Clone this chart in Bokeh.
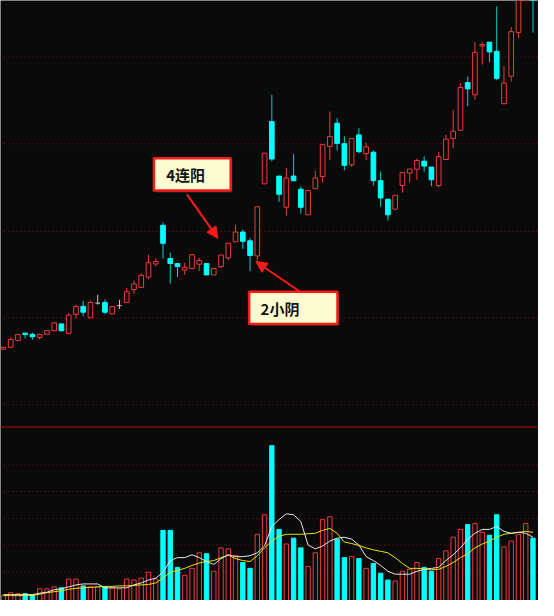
from bokeh.plotting import figure
from bokeh.models import Range1d, Span, Arrow, NormalHead, ColumnDataSource
from bokeh.core.properties import value
from bokeh.embed import file_html
from bokeh.resources import INLINE

# ---------------- data ----------------
open_ = [9.68, 9.76, 10.04, 10.34, 10.29, 10.16, 10.29, 10.44, 10.72, 10.33,
         11.11, 11.44, 10.97, 11.57, 11.60, 11.13, 11.47, 11.60, 12.13, 12.22,
         12.64, 13.18, 14.77, 13.40, 13.20, 12.93, 13.00, 13.17, 13.20, 12.73,
         13.07, 13.43, 14.09, 14.49, 14.13, 13.51, 16.47, 19.03, 16.79, 15.51,
         16.79, 16.25, 15.20, 16.27, 16.77, 18.01, 18.96, 18.12, 17.25, 18.48,
         17.71, 17.77, 16.60, 15.84, 15.43, 16.40, 16.91, 17.07, 17.40, 17.16,
         16.40, 17.47, 18.33, 18.67, 20.63, 20.13, 22.13, 22.29, 21.91, 19.76,
         20.89, 22.69, 24.60, 25.50]
high = [9.77, 10.16, 10.28, 10.36, 10.36, 10.29, 10.46, 10.76, 10.72, 11.16,
        11.51, 11.67, 11.68, 11.91, 11.73, 11.43, 11.71, 12.20, 12.49, 12.80,
        13.56, 13.40, 14.89, 13.64, 13.22, 13.23, 13.56, 13.43, 13.20, 12.99,
        13.55, 14.03, 14.80, 14.60, 14.24, 15.53, 17.73, 20.13, 16.79, 17.13,
        17.69, 16.36, 16.20, 17.00, 18.08, 19.44, 19.17, 18.43, 18.33, 18.76,
        18.16, 17.84, 16.97, 15.84, 16.00, 16.93, 17.08, 17.51, 17.60, 17.16,
        17.77, 18.49, 19.51, 20.60, 20.88, 22.29, 22.29, 22.29, 23.76, 21.31,
        22.91, 25.00, 25.90, 25.70]
low = [9.67, 9.76, 10.04, 10.12, 10.07, 10.08, 10.29, 10.44, 10.40, 10.33,
       10.93, 11.03, 10.97, 11.51, 11.11, 11.13, 11.33, 11.60, 11.96, 12.22,
       12.57, 13.08, 13.40, 12.37, 12.64, 12.73, 12.97, 12.89, 12.73, 12.73,
       13.00, 13.33, 14.09, 13.80, 12.89, 13.31, 16.47, 17.40, 15.73, 15.17,
       16.57, 15.24, 15.20, 16.27, 16.53, 17.44, 17.84, 17.03, 17.17, 17.73,
       17.44, 16.40, 15.53, 14.96, 15.43, 16.11, 16.53, 16.64, 16.97, 16.37,
       16.33, 17.47, 17.93, 18.67, 19.67, 19.93, 21.37, 21.47, 20.73, 19.76,
       20.67, 22.47, 23.96, 22.68]
close = [9.76, 10.08, 10.28, 10.28, 10.19, 10.29, 10.44, 10.76, 10.44, 11.08,
         11.43, 11.20, 11.60, 11.57, 11.20, 11.43, 11.47, 12.04, 12.36, 12.71,
         13.23, 13.28, 14.03, 13.20, 13.07, 13.04, 13.56, 13.32, 12.73, 12.99,
         13.55, 14.03, 14.49, 14.11, 13.53, 15.53, 17.73, 17.49, 16.04, 16.71,
         16.60, 15.51, 16.20, 16.71, 18.08, 18.41, 18.13, 17.23, 18.33, 17.79,
         17.99, 16.60, 15.89, 15.20, 16.00, 16.93, 17.08, 17.43, 17.20, 16.64,
         17.59, 18.31, 18.63, 20.43, 20.37, 21.87, 22.19, 21.89, 20.80, 20.61,
         22.72, 24.80, 25.60, 24.60]
volume = [5, 8, 7, 7, 6, 12, 12, 14, 13, 22,
          22, 15, 14, 14, 14, 13, 12, 22, 21, 23,
          29, 22, 72, 72, 34, 26, 33, 49, 48, 30,
          54, 53, 46, 39, 33, 68, 88, 159, 73, 58,
          64, 54, 35, 49, 83, 86, 63, 44, 45, 43,
          33, 38, 28, 21, 20, 30, 32, 39, 34, 30,
          43, 51, 65, 73, 78, 79, 70, 67, 88, 55,
          61, 68, 79, 64]
vol_ma5 = [6, 6, 6, 6, 6, 7.5, 8.5, 11, 12, 14,
           16, 17, 17, 17, 13, 13, 13, 13, 16, 18,
           21, 23, 29, 41, 44, 44, 47, 44, 40, 37,
           43, 47, 45, 45, 46, 49, 56, 76, 83, 89,
           88, 81, 57, 53, 56, 61, 64, 65, 63, 57,
           45, 41, 36, 30, 27, 27, 27, 30, 32, 33,
           34, 41, 47, 54, 63, 69, 73, 73, 76, 71,
           69, 70, 69, 65]
vol_ma10 = [5, 5, 5, 5, 5, 6.5, 8, 9, 10, 11.5,
            12.5, 13, 13.5, 14, 14.5, 14.5, 15, 15, 15.5, 16,
            16.5, 18, 23, 29, 31, 33, 36, 38.5, 40, 41,
            44, 46.5, 43, 41, 40, 46, 54, 61, 66, 68,
            68, 68, 68.5, 69, 72, 74, 69, 60, 58.5, 56.5,
            54, 52, 50.5, 49, 44, 38, 33, 33, 32.5, 31.5,
            32, 35, 39, 44, 48, 54, 58, 61, 65, 68,
            69, 70, 71, 70]
price_grid = [7.40, 10.96, 14.52, 18.12, 21.68]
volume_grid = [29, 57, 84, 112, 139]
volume_top = 178
note_up = "4连阳"
note_down = "2小阴"
note_up_bar = 30      # candle the first arrow points to
note_down_bar = 35    # candle the second arrow points to

# ---------------- styling ----------------
BG = "#0a0a0a"
RED = "#f03a3a"
CYAN = "#00ffff"
CYAN_WICK = "#00d0d0"
GRAY = "#c8c8c8"
GRID = "#8a1818"
ARROW = "#ff1a1a"

n = len(open_)
idx = list(range(n))
col, wick_col, fill, top, bot = [], [], [], [], []
for o, c in zip(open_, close):
    if c > o:
        col.append(RED); wick_col.append(RED); fill.append(BG)
    elif c < o:
        col.append(CYAN); wick_col.append(CYAN_WICK); fill.append(CYAN)
    else:
        col.append(GRAY); wick_col.append(GRAY); fill.append(GRAY)
    top.append(max(o, c)); bot.append(min(o, c))

src = ColumnDataSource(dict(x=idx, o=open_, h=high, l=low, c=close,
                            top=top, bot=bot, col=col, wcol=wick_col, fill=fill,
                            v=volume,
                            vcol=[RED if c >= o else CYAN for o, c in zip(open_, close)],
                            vfill=[BG if c >= o else CYAN for o, c in zip(open_, close)]))
body_src = ColumnDataSource({k: [src.data[k][i] for i in idx if open_[i] != close[i]]
                             for k in src.data})
doji = [i for i in idx if open_[i] == close[i]]

p = figure(width=538, height=600, output_backend="svg", toolbar_location=None,
           x_range=Range1d(-0.40, 73.76), y_range=Range1d(-0.64, 24.0),
           x_axis_location=None, y_axis_location=None,
           background_fill_color=BG, border_fill_color=BG, min_border=0)
p.extra_y_ranges = {"vol": Range1d(0, 616)}
p.grid.visible = False
p.outline_line_color = None

for g in price_grid:
    p.add_layout(Span(location=g, dimension="width", line_color=GRID,
                      line_dash="1 3", line_width=1, level="underlay"))
for g in volume_grid:
    p.add_layout(Span(location=g, dimension="width", line_color=GRID,
                      line_dash="1 3", line_width=1, y_range_name="vol",
                      level="underlay"))
p.add_layout(Span(location=volume_top, dimension="width", line_color="#5e0c0c",
                  line_width=2, y_range_name="vol", level="underlay"))

# candles
p.segment(x0="x", y0="h", x1="x", y1="l", color="wcol", line_width=1, source=src)
p.vbar(x="x", width=0.64, top="top", bottom="bot", fill_color="fill",
       line_color="col", line_width=1, source=body_src)
p.segment(x0=[i - 0.32 for i in doji], y0=[open_[i] for i in doji],
          x1=[i + 0.32 for i in doji], y1=[open_[i] for i in doji],
          color=GRAY, line_width=1)

# volume
p.vbar(x="x", width=0.6, top="v", bottom=-3, fill_color="vfill",
       line_color="vcol", line_width=1, source=src, y_range_name="vol")
p.line(idx, vol_ma10, color="#e6e600", line_width=1, y_range_name="vol")
p.line(idx, vol_ma5, color="#e8e8e8", line_width=1, y_range_name="vol")

# annotations
def note_box(left, right, t, b):
    p.quad(left=left + 0.25, right=right + 0.25, top=t - 0.08, bottom=b - 0.08,
           fill_color="#333333", fill_alpha=0.8, line_color=None)
    p.quad(left=left, right=right, top=t, bottom=b, fill_color="#fdfbd0",
           line_color=ARROW, line_width=2.5)

note_box(20.75, 31.33, 17.52, 16.20)
p.text(x=[22.45], y=[16.84], text=[note_up], text_font=value("Noto Sans CJK SC"),
       text_font_size="15px", text_font_style="bold", text_color="#151515",
       text_baseline="middle", text_align="left")
note_box(33.87, 46.05, 12.04, 10.72)
p.text(x=[35.45], y=[11.36], text=[note_down], text_font=value("Noto Sans CJK SC"),
       text_font_size="15px", text_font_style="bold", text_color="#151515",
       text_baseline="middle", text_align="left")

p.add_layout(Arrow(end=NormalHead(size=11, fill_color=ARROW, line_color=ARROW),
                   x_start=25.3, y_start=16.04, x_end=note_up_bar - 0.45, y_end=14.24,
                   line_color=ARROW, line_width=2))
p.add_layout(Arrow(end=NormalHead(size=11, fill_color=ARROW, line_color=ARROW),
                   x_start=41.1, y_start=12.0, x_end=note_down_bar - 0.2, y_end=13.28,
                   line_color=ARROW, line_width=2))

open("out.html", "w").write(file_html(p, INLINE))
